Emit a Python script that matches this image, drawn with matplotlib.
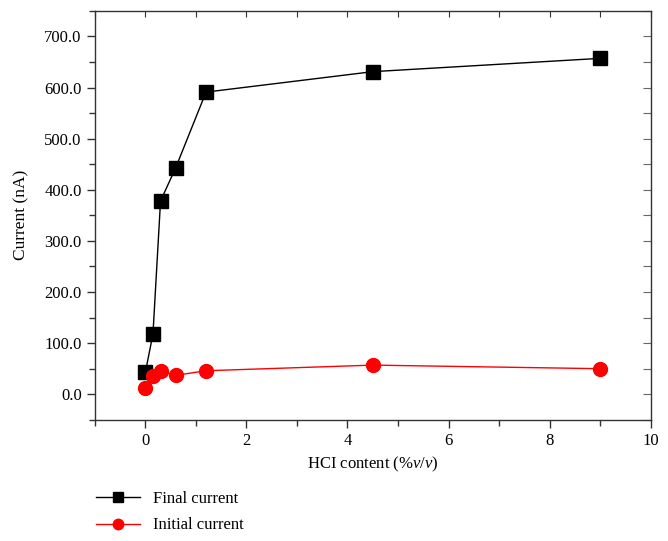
import matplotlib
matplotlib.use("Agg")
import matplotlib.pyplot as plt
from matplotlib.ticker import MultipleLocator

plt.rcParams["font.family"] = ["Liberation Serif", "DejaVu Serif"]
plt.rcParams["mathtext.fontset"] = "custom"
plt.rcParams["mathtext.it"] = "Liberation Serif:italic"
plt.rcParams["mathtext.rm"] = "Liberation Serif"

hcl = [0, 0.15, 0.3, 0.6, 1.2, 4.5, 9.0]
final_current = [43, 118, 378, 443, 591, 631, 657]
initial_current = [12, 36, 45, 37, 46, 57, 50]

fig = plt.figure(figsize=(6.68, 5.41), dpi=100)
ax = fig.add_axes([0.142, 0.224, 0.832, 0.756])

ax.plot(hcl, final_current, color="black", lw=1, marker="s", ms=9.5,
        label="Final current")
ax.plot(hcl, initial_current, color="red", lw=1, marker="o", ms=10,
        label="Initial current")

ax.set_xlim(-1, 10)
ax.set_ylim(-50, 750)
ax.xaxis.set_major_locator(MultipleLocator(2))
ax.xaxis.set_minor_locator(MultipleLocator(1))
ax.yaxis.set_major_locator(MultipleLocator(100))
ax.yaxis.set_minor_locator(MultipleLocator(50))
ax.yaxis.set_major_formatter(lambda v, p: f"{v:.1f}")

ax.tick_params(axis="both", which="both", direction="out", labelsize=12,
               color="#333333", width=1)
ax.tick_params(which="major", length=6)
ax.tick_params(which="minor", length=4)

for s in ax.spines.values():
    s.set_color("#333333")
    s.set_linewidth(1)

# inward ticks on top and right
top = ax.secondary_xaxis("top")
top.xaxis.set_major_locator(MultipleLocator(1))
top.tick_params(direction="in", length=4, labeltop=False, color="#333333")
top.spines["top"].set_visible(False)
right = ax.secondary_yaxis("right")
right.yaxis.set_major_locator(MultipleLocator(50))
right.tick_params(direction="in", length=6, labelright=False, color="#666666")
right.spines["right"].set_visible(False)

ax.set_xlabel(r"HCI content (%$\it{v}$/$\it{v}$)", fontsize=12, labelpad=4)
ax.set_ylabel("Current (nA)", fontsize=12.5, labelpad=11)

fig.legend(loc="upper left", bbox_to_anchor=(0.122, 0.12), frameon=False,
           fontsize=12, handlelength=2.6, handletextpad=0.8, labelspacing=0.62,
           markerscale=0.75)

fig.savefig("out.png", dpi=100)
